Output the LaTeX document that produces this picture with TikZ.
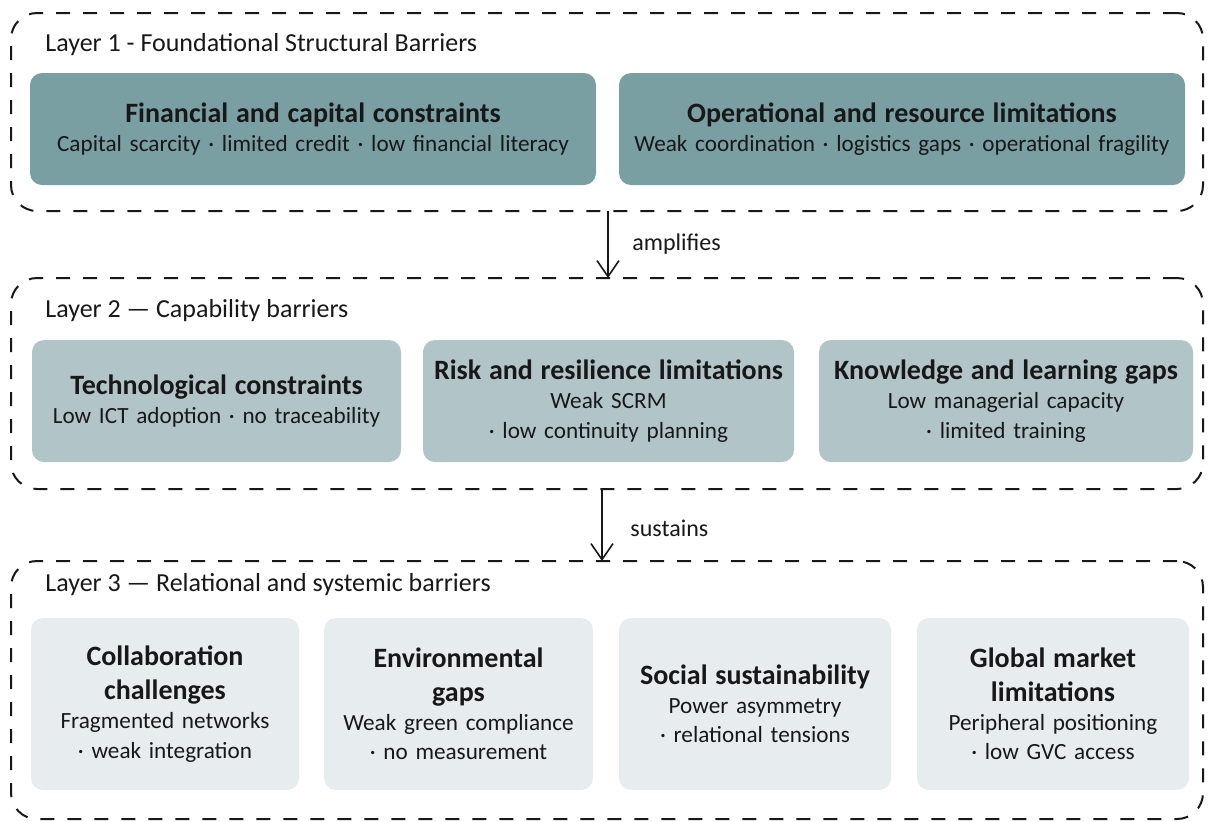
\documentclass[tikz,border=0pt]{standalone}
\usepackage{fontspec}
\setmainfont{Carlito}
\usetikzlibrary{arrows.meta}

\definecolor{cardone}{RGB}{121,159,162}
\definecolor{cardtwo}{RGB}{177,197,201}
\definecolor{cardthree}{RGB}{231,236,238}
\definecolor{ink}{RGB}{24,24,24}

\newcommand{\cardheadfont}{\bfseries\fontsize{14}{17}\selectfont}

\begin{document}
\begin{tikzpicture}[x=0.5pt,y=-0.5pt,
  layer/.style={draw=ink, line width=1pt, dash pattern=on 7pt off 6.5pt,
    rounded corners=13pt, inner sep=0pt, outer sep=0pt},
  layerlabel/.style={anchor=west, inner sep=0pt, text=ink,
    font=\fontsize{13}{15.6}\selectfont},
  card/.style={rounded corners=6pt, inner sep=0pt, outer sep=0pt,
    align=center, text=ink, font=\fontsize{11.6}{14.6}\selectfont},
  cardsize/.style 2 args={minimum width=#1, minimum height=#2, text width=#1-6pt},
  flow/.style={draw=ink, line width=0.8pt, -{Straight Barb[length=8pt,width=11pt]}},
  flowlabel/.style={anchor=west, inner sep=0pt, text=ink,
    font=\fontsize{12}{14.5}\selectfont}
]
\useasboundingbox (0,0) rectangle (1212,821);

% dashed layer frames
\node[layer, minimum width=596pt, minimum height=99pt]   (L1) at (607,112) {};
\node[layer, minimum width=596pt, minimum height=105.5pt] (L2) at (607,383.5) {};
\node[layer, minimum width=596pt, minimum height=129pt]  (L3) at (607,690) {};

\node[layerlabel] (L1t) at (45,45)  {Layer 1 - Foundational Structural Barriers};
\node[layerlabel] (L2t) at (45,311) {Layer 2 — Capability barriers};
\node[layerlabel] (L3t) at (45,585) {Layer 3 — Relational and systemic barriers};

% layer 1 cards
\node[card, fill=cardone, cardsize={283pt}{56pt}] (fin) at (313,129)
  {{\cardheadfont Financial and capital constraints\par}Capital scarcity · limited credit · low financial literacy};
\node[card, fill=cardone, cardsize={283pt}{56pt}] (ops) at (902,129)
  {{\cardheadfont Operational and resource limitations\par}Weak coordination · logistics gaps · operational fragility};

% layer 2 cards
\node[card, fill=cardtwo, cardsize={184.5pt}{61pt}] (tech) at (216.5,401)
  {{\cardheadfont Technological constraints\par}Low ICT adoption · no traceability};
\node[card, fill=cardtwo, cardsize={185.5pt}{61pt}] (risk) at (608.5,401)
  {{\cardheadfont Risk and resilience limitations\par}Weak SCRM\\· low continuity planning};
\node[card, fill=cardtwo, cardsize={187pt}{61pt}] (know) at (1006,401)
  {{\cardheadfont Knowledge and learning gaps\par}Low managerial capacity\\· limited training};

% layer 3 cards
\node[card, fill=cardthree, cardsize={134pt}{86pt}] (collab) at (165,704)
  {{\cardheadfont Collaboration\\challenges\par}Fragmented networks\\· weak integration};
\node[card, fill=cardthree, cardsize={134.5pt}{86pt}] (env) at (458.5,704)
  {{\cardheadfont Environmental\\gaps\par}Weak green compliance\\· no measurement};
\node[card, fill=cardthree, cardsize={136pt}{86pt}] (soc) at (755,704)
  {{\cardheadfont Social sustainability\par}Power asymmetry\\· relational tensions};
\node[card, fill=cardthree, cardsize={136pt}{86pt}] (glob) at (1053,704)
  {{\cardheadfont Global market\\limitations\par}Peripheral positioning\\· low GVC access};

% links between layers
\coordinate (a1) at (608,0);
\coordinate (a2) at (602,0);
\draw[flow] (L1.south -| a1) -- (L2.north -| a1);
\draw[flow] (L2.south -| a2) -- (L3.north -| a2);
\node[flowlabel] (amp) at (632,244) {amplifies};
\node[flowlabel] (sus) at (630,528) {sustains};
\end{tikzpicture}
\end{document}
